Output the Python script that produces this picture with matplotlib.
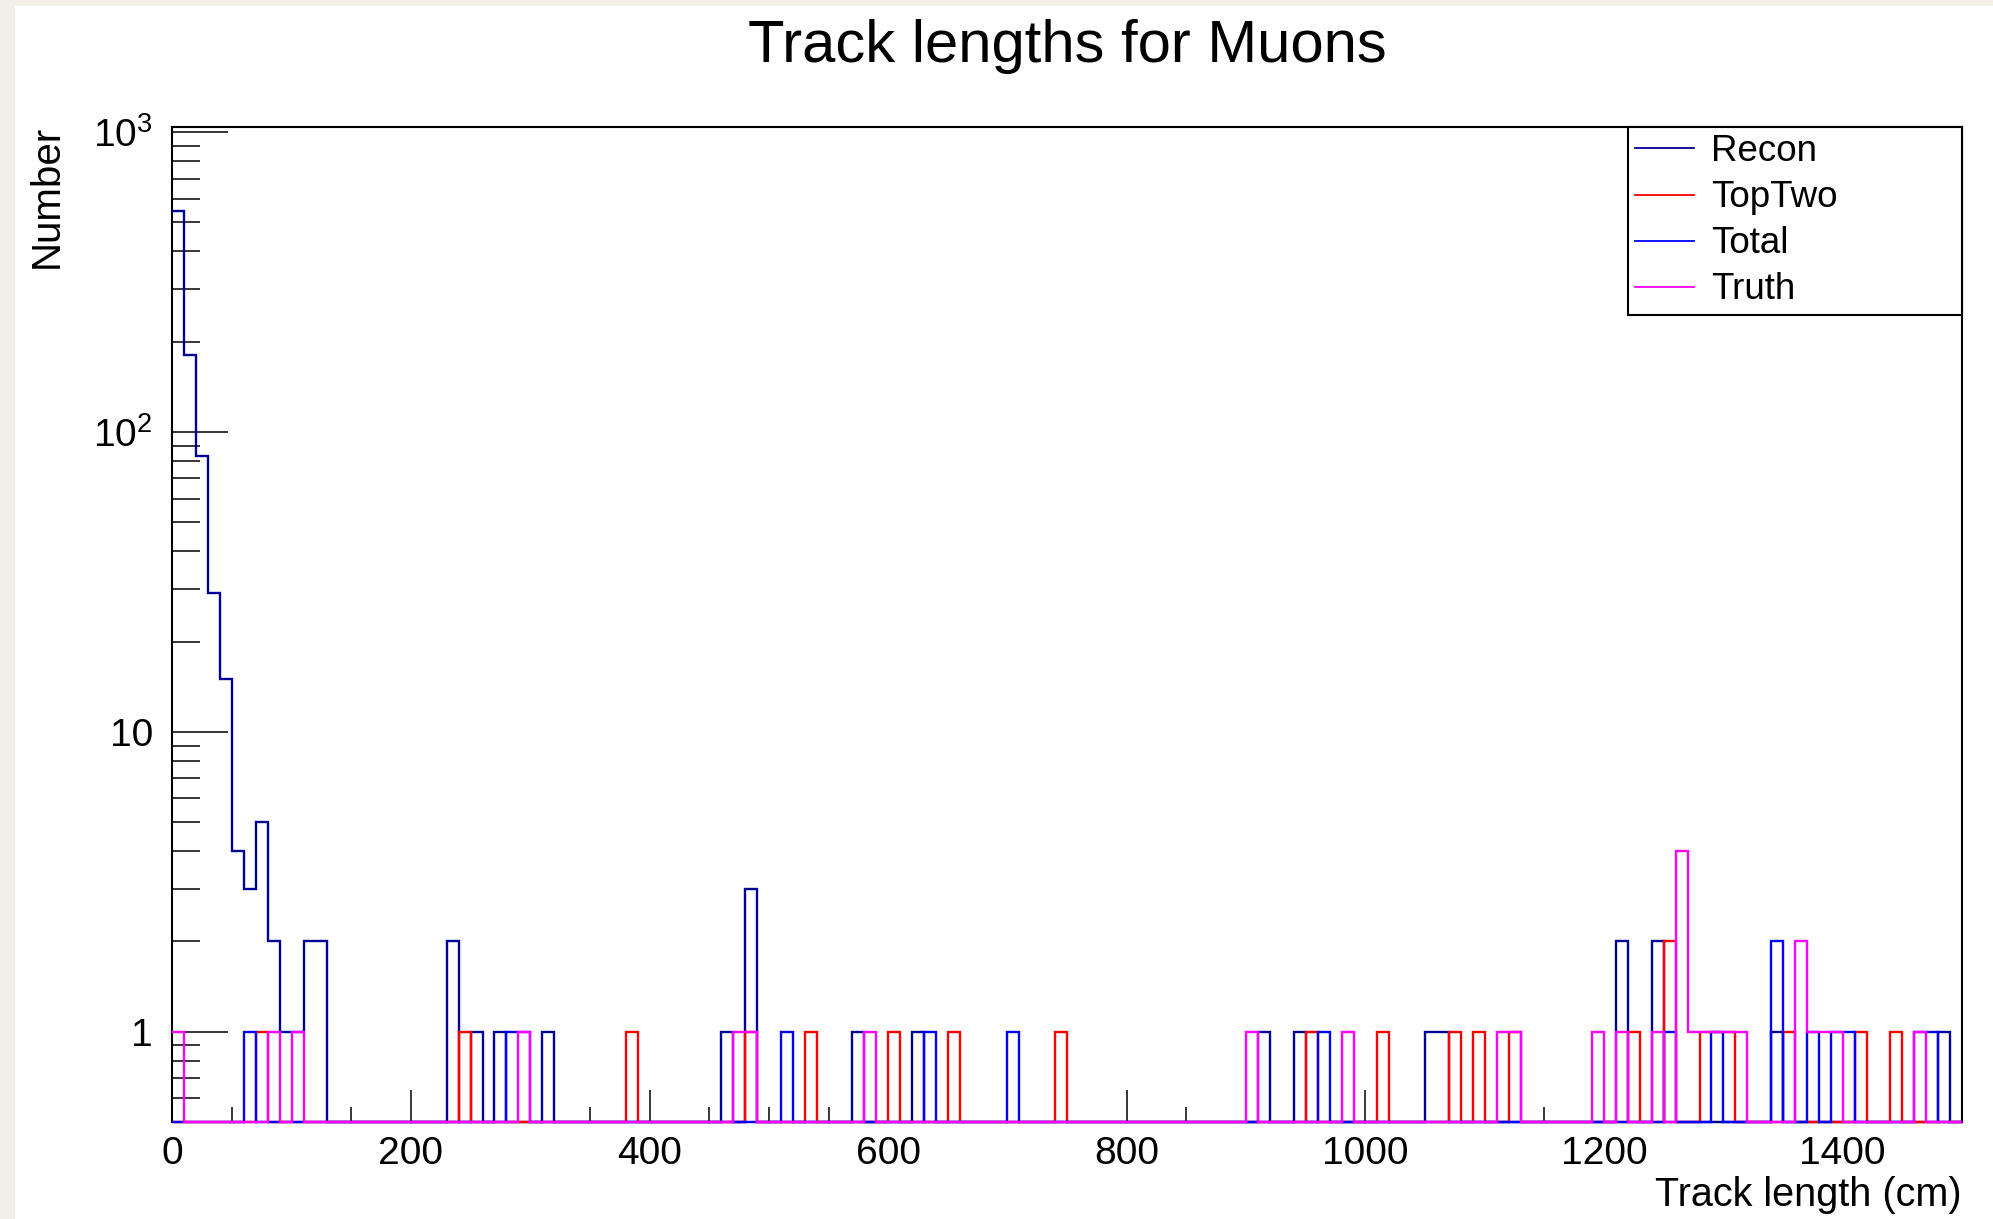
import numpy as np
import matplotlib
matplotlib.use('Agg')
import matplotlib.pyplot as plt
from matplotlib.ticker import MultipleLocator, FixedLocator, FixedFormatter, LogLocator, NullFormatter
from matplotlib.patches import Rectangle

plt.rcParams['font.family'] = ['Liberation Sans', 'DejaVu Sans']
plt.rcParams['mathtext.fontset'] = 'custom'
plt.rcParams['mathtext.rm'] = 'Liberation Sans'
plt.rcParams['mathtext.it'] = 'Liberation Sans:italic'
plt.rcParams['mathtext.bf'] = 'Liberation Sans:bold'

# 150 bins of 10 cm (0 - 1500 cm); only the non-empty bins are listed
nbins = 150
edges = np.linspace(0, 1500, nbins + 1)

recon_bins = [0, 1, 2, 3, 4, 5, 6, 7, 8, 9, 10, 11, 12, 23, 25, 27, 31, 46, 48, 57,
              62, 91, 94, 105, 106, 121, 124, 134, 148]
recon_counts = [546, 181, 83, 29, 15, 4, 3, 5, 2, 1, 1, 2, 2, 2, 1, 1, 1, 1, 3, 1,
                1, 1, 1, 1, 1, 2, 2, 1, 1]

toptwo_bins = [7, 24, 38, 48, 53, 60, 65, 74, 95, 101, 107, 109, 112, 122, 125, 128,
               129, 130, 135, 141, 144]
toptwo_counts = [1, 1, 1, 1, 1, 1, 1, 1, 1, 1, 1, 1, 1, 1, 2, 1,
                 1, 1, 1, 1, 1]

total_bins = [6, 28, 29, 51, 63, 70, 96, 125, 129, 134, 137, 139, 140, 146, 147]
total_counts = [1, 1, 1, 1, 1, 1, 1, 1, 1, 2, 1, 1, 1, 1, 1]

truth_bins = [0, 8, 10, 29, 47, 48, 58, 90, 98, 111, 112, 119, 121, 124, 126, 127,
              128, 129, 130, 131, 136, 137, 138, 139, 146]
truth_counts = [1, 1, 1, 1, 1, 1, 1, 1, 1, 1, 1, 1, 1, 1, 4, 1,
                1, 1, 1, 1, 2, 1, 1, 1, 1]

series = [
    ('Recon', recon_bins, recon_counts, '#000099'),
    ('TopTwo', toptwo_bins, toptwo_counts, '#ff0000'),
    ('Total', total_bins, total_counts, '#0000ff'),
    ('Truth', truth_bins, truth_counts, '#ff00ff'),
]

ymin, ymax = 0.5, 1040

W, H = 1993, 1219
fig = plt.figure(figsize=(W / 100, H / 100), dpi=100, facecolor='#f2efe9')
fig.patches.append(Rectangle((15 / W, 0), 1 - 15 / W, 1 - 6 / H, transform=fig.transFigure,
                             facecolor='white', edgecolor='none', zorder=-10))

ax = fig.add_axes([172.3 / W, 1 - 1122 / H, (1962 - 172.3) / W, (1122 - 127) / H])
ax.set_yscale('log')

for name, b, c, col in series:
    counts = np.zeros(nbins)
    counts[b] = c
    # empty bins are drawn on the bottom of the frame, like ROOT does
    ax.stairs(np.clip(counts, ymin, None), edges, baseline=None, color=col,
              linewidth=1.7, label=name, clip_on=False, zorder=3)

ax.set_xlim(0, 1500)
ax.set_ylim(ymin, ymax)

ax.xaxis.set_major_locator(MultipleLocator(200))
ax.xaxis.set_minor_locator(MultipleLocator(50))
ax.yaxis.set_major_locator(FixedLocator([1, 10, 100, 1000]))
ax.yaxis.set_major_formatter(FixedFormatter(['1', '10', r'$10^{2}$', r'$10^{3}$']))
ax.yaxis.set_minor_locator(LogLocator(base=10, subs=np.arange(2, 10), numticks=20))
ax.yaxis.set_minor_formatter(NullFormatter())

ax.tick_params(axis='x', which='major', direction='in', length=23, width=1.1,
               labelsize=28, pad=10, top=False)
ax.tick_params(axis='x', which='minor', direction='in', length=11, width=1.1, top=False)
ax.tick_params(axis='y', which='major', direction='in', length=40, width=1.1,
               labelsize=28, pad=14, right=False)
ax.tick_params(axis='y', which='minor', direction='in', length=20, width=1.1, right=False)

for s in ax.spines.values():
    s.set_linewidth(1.5)

fig.text(1067 / W, 1 - 47 / H, 'Track lengths for Muons', ha='center', va='center', fontsize=43)
fig.text(1962 / W, 1 - 1195 / H, 'Track length (cm)', ha='right', va='center', fontsize=28.5)
fig.text(47 / W, 1 - 125 / H, 'Number', rotation=90, ha='center', va='top', fontsize=29)

x0 = (1628 - 172.3) / (1962 - 172.3)
leg = ax.legend(loc='upper left', bbox_to_anchor=(x0, 0.5, 1 - x0, 0.5), mode='expand',
                borderaxespad=0, fontsize=26.5, frameon=True, fancybox=False,
                edgecolor='black', framealpha=1, handlelength=1.6, handletextpad=0.45,
                labelspacing=0.3, borderpad=0.2)
leg.get_frame().set_linewidth(1.5)
for h in leg.get_lines():
    h.set_linewidth(1.3)

fig.savefig('out.png', dpi=100, facecolor=fig.get_facecolor())
